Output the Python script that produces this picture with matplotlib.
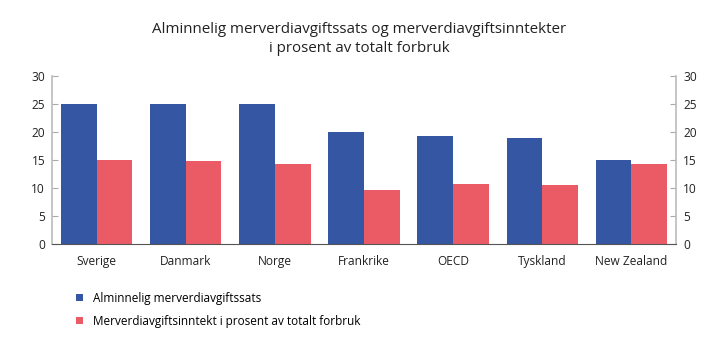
import matplotlib
matplotlib.use("Agg")
import matplotlib.pyplot as plt
import numpy as np

categories = ["Sverige", "Danmark", "Norge", "Frankrike", "OECD", "Tyskland", "New Zealand"]
sats = [25, 25, 25, 20, 19.3, 19, 15]
inntekt = [15, 14.9, 14.2, 9.7, 10.8, 10.6, 14.3]
series_names = ["Alminnelig merverdiavgiftssats", "Merverdiavgiftsinntekt i prosent av totalt forbruk"]
title = "Alminnelig merverdiavgiftssats og merverdiavgiftsinntekter\ni prosent av totalt forbruk"
yticks = [0, 5, 10, 15, 20, 25, 30]

plt.rcParams['font.family'] = ['Open Sans', 'DejaVu Sans']

blue = "#3556A3"
red = "#EB5B66"

fig = plt.figure(figsize=(7.28, 3.53), dpi=100)
ax = fig.add_axes([52/728, 109/353, 624/728, 168/353])

x = np.arange(len(categories))
w = 0.4
b1 = ax.bar(x - w/2, sats, w, color=blue, label=series_names[0])
b2 = ax.bar(x + w/2, inntekt, w, color=red, label=series_names[1])

ax.set_xlim(-0.5, len(categories) - 0.5)
ax.set_ylim(0, 30)
ax.set_yticks(yticks)
ax.set_xticks(x)
ax.set_xticklabels(categories)
ax.tick_params(axis='x', length=0, pad=8, labelsize=8.6, colors="#222222")
ax.tick_params(axis='y', direction='in', length=4, color="#aaaaaa", labelsize=8.6,
               labelcolor="#222222", left=True, right=True, labelleft=True, labelright=True, pad=5)
ax.spines["top"].set_visible(False)
ax.spines["left"].set_color("#bbbbbb")
ax.spines["right"].set_color("#bbbbbb")
ax.spines["left"].set_linewidth(1.2)
ax.spines["right"].set_linewidth(1.2)
ax.spines["bottom"].set_color("#555555")

fig.text(359/728, 1 - 39/353, title, ha="center", va="center", fontsize=10.9,
         color="#222222", linespacing=1.3)

fig.legend(handles=[b1, b2], labels=series_names, loc="upper left",
           bbox_to_anchor=(65/728, 1 - 281/353), frameon=False, fontsize=8.5,
           handlelength=0.6, handleheight=0.6, handletextpad=0.9, labelspacing=0.85)

fig.savefig("out.png", dpi=100)
